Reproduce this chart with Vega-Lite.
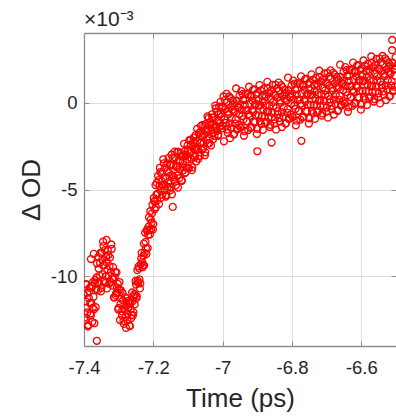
{
"$schema": "https://vega.github.io/schema/vega-lite/v6.json",
"autosize": "none",
"padding": {"left": 84, "top": 33, "right": 0, "bottom": 72},
"width": 312,
"height": 313,
"background": "white",
"title": {"text": "×10⁻³", "anchor": "start", "frame": "group", "fontSize": 21, "font": "Liberation Sans", "fontWeight": "normal", "color": "#262626", "offset": 3},
"config": {"view": {"stroke": null}},
"data": {"values": [
{"t":-7.4,"v":-11.05},{"t":-7.3975,"v":-12.52},{"t":-7.395,"v":-11.43},{"t":-7.3925,"v":-10.46},{"t":-7.39,"v":-12.06},{"t":-7.3875,"v":-12.8},{"t":-7.385,"v":-10.86},{"t":-7.3825,"v":-11.54},{"t":-7.38,"v":-12.22},{"t":-7.3775,"v":-10.57},{"t":-7.375,"v":-11.81},{"t":-7.3725,"v":-11.17},{"t":-7.37,"v":-12.69},{"t":-7.3675,"v":-10.21},{"t":-7.365,"v":-10.72},{"t":-7.3625,"v":-9.26},{"t":-7.36,"v":-10.8},{"t":-7.3575,"v":-9.55},{"t":-7.355,"v":-9.95},{"t":-7.3525,"v":-8.65},
{"t":-7.35,"v":-10.66},{"t":-7.3475,"v":-9.04},{"t":-7.345,"v":-9.36},{"t":-7.3425,"v":-10.26},{"t":-7.34,"v":-8.49},{"t":-7.3375,"v":-9.99},{"t":-7.335,"v":-9.18},{"t":-7.3325,"v":-9.61},{"t":-7.33,"v":-8.77},{"t":-7.3275,"v":-10.42},{"t":-7.325,"v":-8.91},{"t":-7.3225,"v":-9.76},{"t":-7.32,"v":-8.42},{"t":-7.3175,"v":-10.53},{"t":-7.315,"v":-10.13},{"t":-7.3125,"v":-11.21},{"t":-7.31,"v":-9.75},{"t":-7.3075,"v":-10.97},{"t":-7.305,"v":-10.64},{"t":-7.3025,"v":-10.43},
{"t":-7.3,"v":-11.81},{"t":-7.2975,"v":-10.32},{"t":-7.295,"v":-11.59},{"t":-7.2925,"v":-11.28},{"t":-7.29,"v":-12.25},{"t":-7.2875,"v":-11.38},{"t":-7.285,"v":-12.73},{"t":-7.2825,"v":-11.93},{"t":-7.28,"v":-12.33},{"t":-7.2775,"v":-11.26},{"t":-7.275,"v":-12.54},{"t":-7.2725,"v":-11.78},{"t":-7.27,"v":-11.58},{"t":-7.2675,"v":-12.86},{"t":-7.265,"v":-11.87},{"t":-7.2625,"v":-12.23},{"t":-7.26,"v":-11.43},{"t":-7.2575,"v":-12.06},{"t":-7.255,"v":-11.02},{"t":-7.2525,"v":-11.07},
{"t":-7.25,"v":-10.47},{"t":-7.2475,"v":-11.15},{"t":-7.245,"v":-10.25},{"t":-7.2425,"v":-9.42},{"t":-7.24,"v":-10.17},{"t":-7.2375,"v":-10.4},{"t":-7.235,"v":-8.97},{"t":-7.2325,"v":-9.16},{"t":-7.23,"v":-9.35},{"t":-7.2275,"v":-8.11},{"t":-7.225,"v":-8.64},{"t":-7.2225,"v":-8.02},{"t":-7.22,"v":-8.72},{"t":-7.2175,"v":-7.29},{"t":-7.215,"v":-7.61},{"t":-7.2125,"v":-6.6},{"t":-7.21,"v":-7.59},{"t":-7.2075,"v":-6.73},{"t":-7.205,"v":-6.9},{"t":-7.2025,"v":-5.87},
{"t":-7.2,"v":-6.99},{"t":-7.1975,"v":-5.68},{"t":-7.195,"v":-5.65},{"t":-7.1925,"v":-6.02},{"t":-7.19,"v":-4.62},{"t":-7.1875,"v":-5.25},{"t":-7.185,"v":-4.46},{"t":-7.1825,"v":-4.81},{"t":-7.18,"v":-4.0},{"t":-7.1775,"v":-5.47},{"t":-7.175,"v":-4.04},{"t":-7.1725,"v":-4.78},{"t":-7.17,"v":-3.5},{"t":-7.1675,"v":-5.03},{"t":-7.165,"v":-4.37},{"t":-7.1625,"v":-5.32},{"t":-7.16,"v":-3.5},{"t":-7.1575,"v":-4.61},{"t":-7.155,"v":-4.02},{"t":-7.1525,"v":-3.57},
{"t":-7.15,"v":-4.86},{"t":-7.1475,"v":-3.0},{"t":-7.145,"v":-4.18},{"t":-7.1425,"v":-3.6},{"t":-7.14,"v":-4.45},{"t":-7.1375,"v":-3.15},{"t":-7.135,"v":-4.76},{"t":-7.1325,"v":-3.73},{"t":-7.13,"v":-4.19},{"t":-7.1275,"v":-2.83},{"t":-7.125,"v":-4.35},{"t":-7.1225,"v":-3.38},{"t":-7.12,"v":-3.08},{"t":-7.1175,"v":-4.5},{"t":-7.115,"v":-3.4},{"t":-7.1125,"v":-3.72},{"t":-7.11,"v":-2.82},{"t":-7.1075,"v":-4.02},{"t":-7.105,"v":-3.0},{"t":-7.1025,"v":-3.27},
{"t":-7.1,"v":-2.77},{"t":-7.0975,"v":-3.78},{"t":-7.095,"v":-2.92},{"t":-7.0925,"v":-2.15},{"t":-7.09,"v":-3.25},{"t":-7.0875,"v":-3.73},{"t":-7.085,"v":-2.26},{"t":-7.0825,"v":-2.69},{"t":-7.08,"v":-3.13},{"t":-7.0775,"v":-1.86},{"t":-7.075,"v":-2.7},{"t":-7.0725,"v":-2.18},{"t":-7.07,"v":-3.23},{"t":-7.0675,"v":-1.74},{"t":-7.065,"v":-2.32},{"t":-7.0625,"v":-1.34},{"t":-7.06,"v":-2.73},{"t":-7.0575,"v":-1.92},{"t":-7.055,"v":-2.33},{"t":-7.0525,"v":-1.32},
{"t":-7.05,"v":-2.86},{"t":-7.0475,"v":-1.51},{"t":-7.045,"v":-1.7},{"t":-7.0425,"v":-2.35},{"t":-7.04,"v":-0.89},{"t":-7.0375,"v":-2.02},{"t":-7.035,"v":-1.31},{"t":-7.0325,"v":-1.59},{"t":-7.03,"v":-0.86},{"t":-7.0275,"v":-2.11},{"t":-7.025,"v":-0.85},{"t":-7.0225,"v":-1.46},{"t":-7.02,"v":-0.34},{"t":-7.0175,"v":-1.64},{"t":-7.015,"v":-1.04},{"t":-7.0125,"v":-1.85},{"t":-7.01,"v":-0.24},{"t":-7.0075,"v":-1.18},{"t":-7.005,"v":-0.65},{"t":-7.0025,"v":-0.24},
{"t":-7.0,"v":-1.33},{"t":-6.9975,"v":0.35},{"t":-6.995,"v":-0.97},{"t":-6.9925,"v":-0.38},{"t":-6.99,"v":-1.34},{"t":-6.9875,"v":0.04},{"t":-6.985,"v":-1.75},{"t":-6.9825,"v":-0.67},{"t":-6.98,"v":-1.19},{"t":-6.9775,"v":0.25},{"t":-6.975,"v":-1.45},{"t":-6.9725,"v":-0.42},{"t":-6.97,"v":-0.14},{"t":-6.9675,"v":-1.83},{"t":-6.965,"v":-0.5},{"t":-6.9625,"v":-0.97},{"t":-6.96,"v":0.11},{"t":-6.9575,"v":-1.48},{"t":-6.955,"v":-0.25},{"t":-6.9525,"v":-0.66},
{"t":-6.95,"v":-0.1},{"t":-6.9475,"v":-1.44},{"t":-6.945,"v":-0.42},{"t":-6.9425,"v":0.49},{"t":-6.94,"v":-0.97},{"t":-6.9375,"v":-1.64},{"t":-6.935,"v":0.16},{"t":-6.9325,"v":-0.45},{"t":-6.93,"v":-1.08},{"t":-6.9275,"v":0.46},{"t":-6.925,"v":-0.67},{"t":-6.9225,"v":-0.07},{"t":-6.92,"v":-1.46},{"t":-6.9175,"v":0.35},{"t":-6.915,"v":-0.45},{"t":-6.9125,"v":0.73},{"t":-6.91,"v":-1.1},{"t":-6.9075,"v":-0.14},{"t":-6.905,"v":-0.72},{"t":-6.9025,"v":0.49},
{"t":-6.9,"v":-1.51},{"t":-6.8975,"v":0.11},{"t":-6.895,"v":-0.19},{"t":-6.8925,"v":-1.08},{"t":-6.89,"v":0.69},{"t":-6.8875,"v":-0.8},{"t":-6.885,"v":0.03},{"t":-6.8825,"v":-0.4},{"t":-6.88,"v":0.45},{"t":-6.8775,"v":-1.2},{"t":-6.875,"v":0.33},{"t":-6.8725,"v":-0.52},{"t":-6.87,"v":0.84},{"t":-6.8675,"v":-0.87},{"t":-6.865,"v":-0.19},{"t":-6.8625,"v":-1.28},{"t":-6.86,"v":0.68},{"t":-6.8575,"v":-0.57},{"t":-6.855,"v":0.02},{"t":-6.8525,"v":0.48},
{"t":-6.85,"v":-0.97},{"t":-6.8475,"v":1.02},{"t":-6.845,"v":-0.3},{"t":-6.8425,"v":0.28},{"t":-6.84,"v":-0.68},{"t":-6.8375,"v":0.7},{"t":-6.835,"v":-1.09},{"t":-6.8325,"v":-0.02},{"t":-6.83,"v":-0.55},{"t":-6.8275,"v":0.89},{"t":-6.825,"v":-0.81},{"t":-6.8225,"v":0.21},{"t":-6.82,"v":0.49},{"t":-6.8175,"v":-1.2},{"t":-6.815,"v":0.13},{"t":-6.8125,"v":-0.36},{"t":-6.81,"v":0.72},{"t":-6.8075,"v":-0.87},{"t":-6.805,"v":0.35},{"t":-6.8025,"v":-0.06},
{"t":-6.8,"v":0.5},{"t":-6.7975,"v":-0.84},{"t":-6.795,"v":0.18},{"t":-6.7925,"v":1.09},{"t":-6.79,"v":-0.37},{"t":-6.7875,"v":-1.04},{"t":-6.785,"v":0.76},{"t":-6.7825,"v":0.15},{"t":-6.78,"v":-0.48},{"t":-6.7775,"v":1.06},{"t":-6.775,"v":-0.07},{"t":-6.7725,"v":0.53},{"t":-6.77,"v":-0.86},{"t":-6.7675,"v":0.95},{"t":-6.765,"v":0.15},{"t":-6.7625,"v":1.33},{"t":-6.76,"v":-0.5},{"t":-6.7575,"v":0.46},{"t":-6.755,"v":-0.12},{"t":-6.7525,"v":1.09},
{"t":-6.75,"v":-0.91},{"t":-6.7475,"v":0.72},{"t":-6.745,"v":0.42},{"t":-6.7425,"v":-0.47},{"t":-6.74,"v":1.31},{"t":-6.7375,"v":-0.18},{"t":-6.735,"v":0.65},{"t":-6.7325,"v":0.23},{"t":-6.73,"v":1.08},{"t":-6.7275,"v":-0.56},{"t":-6.725,"v":0.96},{"t":-6.7225,"v":0.12},{"t":-6.72,"v":1.48},{"t":-6.7175,"v":-0.22},{"t":-6.715,"v":0.46},{"t":-6.7125,"v":-0.62},{"t":-6.71,"v":1.34},{"t":-6.7075,"v":0.09},{"t":-6.705,"v":0.69},{"t":-6.7025,"v":1.15},
{"t":-6.7,"v":-0.29},{"t":-6.6975,"v":1.7},{"t":-6.695,"v":0.38},{"t":-6.6925,"v":0.97},{"t":-6.69,"v":0.02},{"t":-6.6875,"v":1.4},{"t":-6.685,"v":-0.39},{"t":-6.6825,"v":0.69},{"t":-6.68,"v":0.17},{"t":-6.6775,"v":1.61},{"t":-6.675,"v":-0.08},{"t":-6.6725,"v":0.94},{"t":-6.67,"v":1.23},{"t":-6.6675,"v":-0.46},{"t":-6.665,"v":0.87},{"t":-6.6625,"v":0.39},{"t":-6.66,"v":1.48},{"t":-6.6575,"v":-0.11},{"t":-6.655,"v":1.12},{"t":-6.6525,"v":0.71},
{"t":-6.65,"v":1.28},{"t":-6.6475,"v":-0.06},{"t":-6.645,"v":0.96},{"t":-6.6425,"v":1.87},{"t":-6.64,"v":0.41},{"t":-6.6375,"v":-0.26},{"t":-6.635,"v":1.54},{"t":-6.6325,"v":0.93},{"t":-6.63,"v":0.31},{"t":-6.6275,"v":1.85},{"t":-6.625,"v":0.72},{"t":-6.6225,"v":1.32},{"t":-6.62,"v":-0.07},{"t":-6.6175,"v":1.75},{"t":-6.615,"v":0.94},{"t":-6.6125,"v":2.12},{"t":-6.61,"v":0.3},{"t":-6.6075,"v":1.26},{"t":-6.605,"v":0.67},{"t":-6.6025,"v":1.89},
{"t":-6.6,"v":-0.11},{"t":-6.5975,"v":1.52},{"t":-6.595,"v":1.22},{"t":-6.5925,"v":0.34},{"t":-6.59,"v":2.11},{"t":-6.5875,"v":0.63},{"t":-6.585,"v":1.46},{"t":-6.5825,"v":1.04},{"t":-6.58,"v":1.89},{"t":-6.5775,"v":0.25},{"t":-6.575,"v":1.78},{"t":-6.5725,"v":0.94},{"t":-6.57,"v":2.3},{"t":-6.5675,"v":0.59},{"t":-6.565,"v":1.28},{"t":-6.5625,"v":0.2},{"t":-6.56,"v":2.16},{"t":-6.5575,"v":0.91},{"t":-6.555,"v":1.51},{"t":-6.5525,"v":1.97},
{"t":-6.55,"v":0.53},{"t":-6.5475,"v":2.53},{"t":-6.545,"v":1.21},{"t":-6.5425,"v":1.8},{"t":-6.54,"v":0.84},{"t":-6.5375,"v":2.22},{"t":-6.535,"v":0.44},{"t":-6.5325,"v":1.52},{"t":-6.53,"v":0.99},{"t":-6.5275,"v":2.43},{"t":-6.525,"v":0.74},{"t":-6.5225,"v":1.76},{"t":-6.52,"v":2.05},{"t":-6.5175,"v":0.36},{"t":-6.515,"v":1.7},{"t":-6.5125,"v":1.22},{"t":-6.51,"v":2.3},{"t":-6.5075,"v":0.72},{"t":-6.505,"v":1.94},{"t":-6.5025,"v":1.54},
{"t":-6.5,"v":2.1},
{"t":-6.511,"v":3.6},{"t":-6.9,"v":-2.8},{"t":-6.859,"v":-2.3},{"t":-6.773,"v":-2.2},{"t":-7.363,"v":-13.7},{"t":-7.144,"v":-6.0},{"t":-7.38,"v":-9.0},{"t":-7.372,"v":-8.7},{"t":-7.345,"v":-8.0},{"t":-7.335,"v":-7.9},
{"t":-7.39875,"v":-12.37},{"t":-7.39625,"v":-10.44},{"t":-7.39375,"v":-11.8},{"t":-7.39125,"v":-10.94},{"t":-7.38875,"v":-12.87},{"t":-7.38625,"v":-11.24},{"t":-7.38375,"v":-10.65},{"t":-7.38125,"v":-12.13},{"t":-7.37875,"v":-11.54},{"t":-7.37625,"v":-12.62},{"t":-7.37375,"v":-10.31},{"t":-7.37125,"v":-11.89},{"t":-7.36875,"v":-10.39},{"t":-7.36625,"v":-11.77},{"t":-7.36375,"v":-10.06},{"t":-7.36125,"v":-10.36},{"t":-7.35875,"v":-8.87},{"t":-7.35625,"v":-10.39},{"t":-7.35375,"v":-9.23},{"t":-7.35125,"v":-10.86},
{"t":-7.34875,"v":-8.65},{"t":-7.34625,"v":-9.88},{"t":-7.34375,"v":-8.25},{"t":-7.34125,"v":-9.35},{"t":-7.33875,"v":-10.37},{"t":-7.33625,"v":-8.88},{"t":-7.33375,"v":-10.69},{"t":-7.33125,"v":-8.49},{"t":-7.32875,"v":-9.96},{"t":-7.32625,"v":-9.4},{"t":-7.32375,"v":-10.31},{"t":-7.32125,"v":-8.16},{"t":-7.31875,"v":-10.14},{"t":-7.31625,"v":-9.46},{"t":-7.31375,"v":-11.2},{"t":-7.31125,"v":-10.06},{"t":-7.30875,"v":-11.09},{"t":-7.30625,"v":-9.77},{"t":-7.30375,"v":-10.92},{"t":-7.30125,"v":-11.9},
{"t":-7.29875,"v":-10.76},{"t":-7.29625,"v":-12.51},{"t":-7.29375,"v":-10.79},{"t":-7.29125,"v":-12.01},{"t":-7.28875,"v":-10.95},{"t":-7.28625,"v":-12.56},{"t":-7.28375,"v":-11.82},{"t":-7.28125,"v":-11.19},{"t":-7.27875,"v":-12.96},{"t":-7.27625,"v":-11.66},{"t":-7.27375,"v":-12.14},{"t":-7.27125,"v":-11.4},{"t":-7.26875,"v":-12.84},{"t":-7.26625,"v":-11.54},{"t":-7.26375,"v":-12.4},{"t":-7.26125,"v":-10.92},{"t":-7.25875,"v":-12.23},{"t":-7.25625,"v":-11.17},{"t":-7.25375,"v":-11.61},{"t":-7.25125,"v":-10.26},
{"t":-7.24875,"v":-11.25},{"t":-7.24625,"v":-9.64},{"t":-7.24375,"v":-10.38},{"t":-7.24125,"v":-9.54},{"t":-7.23875,"v":-10.69},{"t":-7.23625,"v":-9.29},{"t":-7.23375,"v":-8.64},{"t":-7.23125,"v":-9.47},{"t":-7.22875,"v":-8.82},{"t":-7.22625,"v":-9.36},{"t":-7.22375,"v":-7.48},{"t":-7.22125,"v":-8.38},{"t":-7.21875,"v":-7.36},{"t":-7.21625,"v":-8.37},{"t":-7.21375,"v":-7.13},{"t":-7.21125,"v":-7.33},{"t":-7.20875,"v":-6.25},{"t":-7.20625,"v":-7.28},{"t":-7.20375,"v":-6.37},{"t":-7.20125,"v":-7.3},
{"t":-7.19875,"v":-5.49},{"t":-7.19625,"v":-6.14},{"t":-7.19375,"v":-4.75},{"t":-7.19125,"v":-5.3},{"t":-7.18875,"v":-5.63},{"t":-7.18625,"v":-4.21},{"t":-7.18375,"v":-5.84},{"t":-7.18125,"v":-3.75},{"t":-7.17875,"v":-5.07},{"t":-7.17625,"v":-4.51},{"t":-7.17375,"v":-5.31},{"t":-7.17125,"v":-3.26},{"t":-7.16875,"v":-4.7},{"t":-7.16625,"v":-3.75},{"t":-7.16375,"v":-5.41},{"t":-7.16125,"v":-3.96},{"t":-7.15875,"v":-4.85},{"t":-7.15625,"v":-3.19},{"t":-7.15375,"v":-4.23},{"t":-7.15125,"v":-5.05},
{"t":-7.14875,"v":-3.6},{"t":-7.14625,"v":-5.28},{"t":-7.14375,"v":-3.19},{"t":-7.14125,"v":-4.29},{"t":-7.13875,"v":-2.82},{"t":-7.13625,"v":-4.55},{"t":-7.13375,"v":-3.64},{"t":-7.13125,"v":-2.84},{"t":-7.12875,"v":-4.89},{"t":-7.12625,"v":-3.31},{"t":-7.12375,"v":-3.84},{"t":-7.12125,"v":-2.91},{"t":-7.11875,"v":-4.47},{"t":-7.11625,"v":-3.11},{"t":-7.11375,"v":-3.9},{"t":-7.11125,"v":-2.37},{"t":-7.10875,"v":-4.06},{"t":-7.10625,"v":-3.08},{"t":-7.10375,"v":-3.76},{"t":-7.10125,"v":-2.46},
{"t":-7.09875,"v":-3.74},{"t":-7.09625,"v":-2.16},{"t":-7.09375,"v":-3.17},{"t":-7.09125,"v":-2.44},{"t":-7.08875,"v":-3.89},{"t":-7.08625,"v":-2.54},{"t":-7.08375,"v":-2.02},{"t":-7.08125,"v":-3.12},{"t":-7.07875,"v":-2.6},{"t":-7.07625,"v":-3.39},{"t":-7.07375,"v":-1.51},{"t":-7.07125,"v":-2.69},{"t":-7.06875,"v":-1.76},{"t":-7.06625,"v":-3.06},{"t":-7.06375,"v":-1.89},{"t":-7.06125,"v":-2.3},{"t":-7.05875,"v":-1.3},{"t":-7.05625,"v":-2.63},{"t":-7.05375,"v":-1.82},{"t":-7.05125,"v":-3.03},
{"t":-7.04875,"v":-1.23},{"t":-7.04625,"v":-2.14},{"t":-7.04375,"v":-0.8},{"t":-7.04125,"v":-1.6},{"t":-7.03875,"v":-2.34},{"t":-7.03625,"v":-1.11},{"t":-7.03375,"v":-2.47},{"t":-7.03125,"v":-0.68},{"t":-7.02875,"v":-1.77},{"t":-7.02625,"v":-1.27},{"t":-7.02375,"v":-1.93},{"t":-7.02125,"v":-0.17},{"t":-7.01875,"v":-1.36},{"t":-7.01625,"v":-0.53},{"t":-7.01375,"v":-1.91},{"t":-7.01125,"v":-0.66},{"t":-7.00875,"v":-1.39},{"t":-7.00625,"v":0.04},{"t":-7.00375,"v":-0.82},{"t":-7.00125,"v":-1.49},
{"t":-6.99875,"v":-0.26},{"t":-6.99625,"v":-2.23},{"t":-6.99375,"v":0.14},{"t":-6.99125,"v":-1.17},{"t":-6.98875,"v":0.5},{"t":-6.98625,"v":-1.55},{"t":-6.98375,"v":-0.53},{"t":-6.98125,"v":0.35},{"t":-6.97875,"v":-2.05},{"t":-6.97625,"v":-0.27},{"t":-6.97375,"v":-0.91},{"t":-6.97125,"v":0.12},{"t":-6.96875,"v":-1.83},{"t":-6.96625,"v":-0.05},{"t":-6.96375,"v":-1.21},{"t":-6.96125,"v":0.81},{"t":-6.95875,"v":-1.56},{"t":-6.95625,"v":-0.3},{"t":-6.95375,"v":-1.29},{"t":-6.95125,"v":0.4},
{"t":-6.94875,"v":-1.42},{"t":-6.94625,"v":0.66},{"t":-6.94375,"v":-0.78},{"t":-6.94125,"v":0.15},{"t":-6.93875,"v":-1.91},{"t":-6.93625,"v":-0.14},{"t":-6.93375,"v":0.5},{"t":-6.93125,"v":-1.08},{"t":-6.92875,"v":-0.43},{"t":-6.92625,"v":-1.58},{"t":-6.92375,"v":0.91},{"t":-6.92125,"v":-0.77},{"t":-6.91875,"v":0.43},{"t":-6.91625,"v":-1.42},{"t":-6.91375,"v":0.11},{"t":-6.91125,"v":-0.53},{"t":-6.90875,"v":0.76},{"t":-6.90625,"v":-1.12},{"t":-6.90375,"v":-0.08},{"t":-6.90125,"v":-1.81},
{"t":-6.89875,"v":0.57},{"t":-6.89625,"v":-0.74},{"t":-6.89375,"v":1.01},{"t":-6.89125,"v":-0.15},{"t":-6.88875,"v":-1.24},{"t":-6.88625,"v":0.36},{"t":-6.88375,"v":-1.57},{"t":-6.88125,"v":0.8},{"t":-6.87875,"v":-0.77},{"t":-6.87625,"v":-0.16},{"t":-6.87375,"v":-1.13},{"t":-6.87125,"v":1.19},{"t":-6.86875,"v":-0.51},{"t":-6.86625,"v":0.55},{"t":-6.86375,"v":-1.41},{"t":-6.86125,"v":0.22},{"t":-6.85875,"v":-0.85},{"t":-6.85625,"v":1.02},{"t":-6.85375,"v":-0.22},{"t":-6.85125,"v":-1.21},
{"t":-6.84875,"v":0.41},{"t":-6.84625,"v":-1.56},{"t":-6.84375,"v":0.81},{"t":-6.84125,"v":-0.5},{"t":-6.83875,"v":1.15},{"t":-6.83625,"v":-0.89},{"t":-6.83375,"v":0.12},{"t":-6.83125,"v":1.0},{"t":-6.82875,"v":-1.41},{"t":-6.82625,"v":0.37},{"t":-6.82375,"v":-0.28},{"t":-6.82125,"v":0.75},{"t":-6.81875,"v":-1.21},{"t":-6.81625,"v":0.57},{"t":-6.81375,"v":-0.59},{"t":-6.81125,"v":1.43},{"t":-6.80875,"v":-0.95},{"t":-6.80625,"v":0.31},{"t":-6.80375,"v":-0.69},{"t":-6.80125,"v":1.0},
{"t":-6.79875,"v":-0.82},{"t":-6.79625,"v":1.26},{"t":-6.79375,"v":-0.18},{"t":-6.79125,"v":0.75},{"t":-6.78875,"v":-1.31},{"t":-6.78625,"v":0.46},{"t":-6.78375,"v":1.1},{"t":-6.78125,"v":-0.48},{"t":-6.77875,"v":0.17},{"t":-6.77625,"v":-0.98},{"t":-6.77375,"v":1.51},{"t":-6.77125,"v":-0.17},{"t":-6.76875,"v":1.03},{"t":-6.76625,"v":-0.82},{"t":-6.76375,"v":0.71},{"t":-6.76125,"v":0.07},{"t":-6.75875,"v":1.36},{"t":-6.75625,"v":-0.52},{"t":-6.75375,"v":0.52},{"t":-6.75125,"v":-1.21},
{"t":-6.74875,"v":1.17},{"t":-6.74625,"v":-0.14},{"t":-6.74375,"v":1.62},{"t":-6.74125,"v":0.46},{"t":-6.73875,"v":-0.62},{"t":-6.73625,"v":0.98},{"t":-6.73375,"v":-0.94},{"t":-6.73125,"v":1.42},{"t":-6.72875,"v":-0.14},{"t":-6.72625,"v":0.47},{"t":-6.72375,"v":-0.49},{"t":-6.72125,"v":1.83},{"t":-6.71875,"v":0.14},{"t":-6.71625,"v":1.2},{"t":-6.71375,"v":-0.75},{"t":-6.71125,"v":0.88},{"t":-6.70875,"v":-0.19},{"t":-6.70625,"v":1.68},{"t":-6.70375,"v":0.45},{"t":-6.70125,"v":-0.54},
{"t":-6.69875,"v":1.09},{"t":-6.69625,"v":-0.87},{"t":-6.69375,"v":1.49},{"t":-6.69125,"v":0.19},{"t":-6.68875,"v":1.85},{"t":-6.68625,"v":-0.19},{"t":-6.68375,"v":0.83},{"t":-6.68125,"v":1.71},{"t":-6.67875,"v":-0.69},{"t":-6.67625,"v":1.1},{"t":-6.67375,"v":0.45},{"t":-6.67125,"v":1.48},{"t":-6.66875,"v":-0.47},{"t":-6.66625,"v":1.32},{"t":-6.66375,"v":0.16},{"t":-6.66125,"v":2.18},{"t":-6.65875,"v":-0.19},{"t":-6.65625,"v":1.07},{"t":-6.65375,"v":0.08},{"t":-6.65125,"v":1.77},
{"t":-6.64875,"v":-0.04},{"t":-6.64625,"v":2.04},{"t":-6.64375,"v":0.6},{"t":-6.64125,"v":1.53},{"t":-6.63875,"v":-0.53},{"t":-6.63625,"v":1.24},{"t":-6.63375,"v":1.88},{"t":-6.63125,"v":0.31},{"t":-6.62875,"v":0.95},{"t":-6.62625,"v":-0.19},{"t":-6.62375,"v":2.3},{"t":-6.62125,"v":0.62},{"t":-6.61875,"v":1.82},{"t":-6.61625,"v":-0.03},{"t":-6.61375,"v":1.5},{"t":-6.61125,"v":0.87},{"t":-6.60875,"v":2.16},{"t":-6.60625,"v":0.28},{"t":-6.60375,"v":1.31},{"t":-6.60125,"v":-0.41},
{"t":-6.59875,"v":1.97},{"t":-6.59625,"v":0.67},{"t":-6.59375,"v":2.42},{"t":-6.59125,"v":1.26},{"t":-6.58875,"v":0.18},{"t":-6.58625,"v":1.79},{"t":-6.58375,"v":-0.14},{"t":-6.58125,"v":2.23},{"t":-6.57875,"v":0.67},{"t":-6.57625,"v":1.29},{"t":-6.57375,"v":0.32},{"t":-6.57125,"v":2.65},{"t":-6.56875,"v":0.95},{"t":-6.56625,"v":2.02},{"t":-6.56375,"v":0.06},{"t":-6.56125,"v":1.7},{"t":-6.55875,"v":0.63},{"t":-6.55625,"v":2.51},{"t":-6.55375,"v":1.27},{"t":-6.55125,"v":0.28},
{"t":-6.54875,"v":1.92},{"t":-6.54625,"v":-0.05},{"t":-6.54375,"v":2.32},{"t":-6.54125,"v":1.01},{"t":-6.53875,"v":2.68},{"t":-6.53625,"v":0.64},{"t":-6.53375,"v":1.65},{"t":-6.53125,"v":2.54},{"t":-6.52875,"v":0.14},{"t":-6.52625,"v":1.92},{"t":-6.52375,"v":1.27},{"t":-6.52125,"v":2.31},{"t":-6.51875,"v":0.36},{"t":-6.51625,"v":2.14},{"t":-6.51375,"v":0.98},{"t":-6.51125,"v":3.01},{"t":-6.50875,"v":0.64},{"t":-6.50625,"v":1.9},{"t":-6.50375,"v":0.9},{"t":-6.50125,"v":2.6}
]},
"layer": [
{"mark": {"type": "point", "shape": "circle", "filled": false, "color": "#ff0000", "size": 48, "strokeWidth": 1.3, "opacity": 1, "clip": true},
 "encoding": {
  "x": {"field": "t", "type": "quantitative", "scale": {"domain": [-7.4, -6.5], "nice": false, "zero": false},
   "axis": {"orient": "bottom", "values": [-7.4, -7.2, -7, -6.8, -6.6], "labelExpr": "'' + datum.value", "title": "Time (ps)", "grid": true, "gridColor": "#dedede", "tickSize": -5, "tickColor": "#8c8c8c", "domainColor": "#8c8c8c", "domainWidth": 1.3, "labelPadding": 17, "labelFontSize": 18.5, "titleFontSize": 26, "titlePadding": 9, "labelFont": "Liberation Sans", "titleFont": "Liberation Sans", "labelColor": "#262626", "titleColor": "#262626", "titleFontWeight": "normal", "labelFlush": false, "labelOverlap": false, "labelBound": false}},
  "y": {"field": "v", "type": "quantitative", "scale": {"domain": [-14, 4], "nice": false, "zero": false},
   "axis": {"orient": "left", "values": [-10, -5, 0], "labelExpr": "'' + datum.value", "title": "Δ OD", "grid": true, "gridColor": "#dedede", "tickSize": -5, "tickColor": "#8c8c8c", "domainColor": "#8c8c8c", "domainWidth": 1.3, "labelPadding": 12, "labelFontSize": 18.5, "titleFontSize": 26, "titlePadding": 6, "labelFont": "Liberation Sans", "titleFont": "Liberation Sans", "labelColor": "#262626", "titleColor": "#262626", "titleFontWeight": "normal", "labelFlush": false, "labelOverlap": false, "labelBound": false}}
 }},
{"mark": {"type": "point", "opacity": 0},
 "encoding": {
  "x": {"field": "t", "type": "quantitative", "scale": {"domain": [-7.4, -6.5], "nice": false, "zero": false},
   "axis": {"orient": "top", "values": [-7.4, -7.2, -7, -6.8, -6.6], "labels": false, "title": null, "grid": false, "tickSize": -5, "tickColor": "#8c8c8c", "domainColor": "#8c8c8c", "domainWidth": 1.3}},
  "y": {"field": "v", "type": "quantitative", "scale": {"domain": [-14, 4], "nice": false, "zero": false},
   "axis": {"orient": "right", "values": [-10, -5, 0], "labels": false, "title": null, "grid": false, "tickSize": -5, "tickColor": "#8c8c8c", "domain": false}}
 }}
],
"resolve": {"axis": {"x": "independent", "y": "independent"}}
}
